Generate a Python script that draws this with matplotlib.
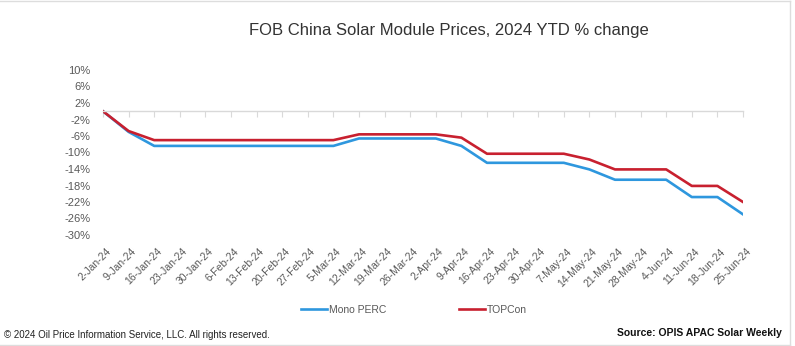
import matplotlib.pyplot as plt
from matplotlib.lines import Line2D

dates = ["2-Jan-24", "9-Jan-24", "16-Jan-24", "23-Jan-24", "30-Jan-24",
         "6-Feb-24", "13-Feb-24", "20-Feb-24", "27-Feb-24",
         "5-Mar-24", "12-Mar-24", "19-Mar-24", "26-Mar-24",
         "2-Apr-24", "9-Apr-24", "16-Apr-24", "23-Apr-24", "30-Apr-24",
         "7-May-24", "14-May-24", "21-May-24", "28-May-24",
         "4-Jun-24", "11-Jun-24", "18-Jun-24", "25-Jun-24"]

mono_perc = [0.0, -5.0, -8.4, -8.4, -8.4, -8.4, -8.4, -8.4, -8.4, -8.4,
             -6.6, -6.6, -6.6, -6.6, -8.4, -12.5, -12.5, -12.5, -12.5,
             -14.1, -16.6, -16.6, -16.6, -20.8, -20.8, -25.0]
topcon = [0.0, -4.8, -7.0, -7.0, -7.0, -7.0, -7.0, -7.0, -7.0, -7.0,
          -5.6, -5.6, -5.6, -5.6, -6.4, -10.3, -10.3, -10.3, -10.3,
          -11.7, -14.1, -14.1, -14.1, -18.1, -18.1, -22.0]

yticks = [10, 6, 2, -2, -6, -10, -14, -18, -22, -26, -30]

plt.rcParams['font.family'] = ['Liberation Sans', 'DejaVu Sans']

fig = plt.figure(figsize=(7.95, 3.46), dpi=100)
ax = fig.add_axes([103 / 795, 1 - 235 / 346, 640 / 795, 165 / 346])

x = list(range(len(dates)))
ax.plot(x, mono_perc, color='#2E97DE', lw=1.9, label='Mono PERC', solid_joinstyle='round')
ax.plot(x, topcon, color='#C8202F', lw=1.9, label='TOPCon', solid_joinstyle='round')

ax.set_xlim(0, len(dates) - 1)
ax.set_ylim(-30, 10)
ax.set_yticks(yticks)
ax.set_yticklabels([f"{t}%" for t in yticks])
ax.tick_params(axis='y', length=0, pad=9, labelsize=8, labelcolor='#595959')

# category axis crosses at zero, labels sit below the plot
for s in ['left', 'right', 'top']:
    ax.spines[s].set_visible(False)
ax.spines['bottom'].set_position(('data', 0))
ax.spines['bottom'].set_color('#d9d9d9')
ax.spines['bottom'].set_linewidth(1.0)
ax.set_xticks(x)
ax.tick_params(axis='x', direction='out', length=4, color='#d9d9d9', labelbottom=False)
for i, d in enumerate(dates):
    ax.text(i + 0.1, -0.07, d, transform=ax.get_xaxis_transform(), rotation=45,
            ha='right', va='top', rotation_mode='anchor', fontsize=7.5, color='#595959')

fig.text(449 / 795, 1 - 30 / 346, "FOB China Solar Module Prices, 2024 YTD % change",
         ha='center', va='center', fontsize=12, color='#333333')

fig.legend(loc='center', bbox_to_anchor=(414 / 795, 1 - 310 / 346), ncol=2, frameon=False,
           fontsize=7.5, labelcolor='#595959', handlelength=2.5, handletextpad=0.2,
           columnspacing=7)

fig.text(4 / 795, 1 - 335 / 346, "\u00a9 2024 Oil Price Information Service, LLC. All rights reserved.",
         ha='left', va='center', fontsize=7, color='#222222')
fig.text(782 / 795, 1 - 333 / 346, "Source: OPIS APAC Solar Weekly",
         ha='right', va='center', fontsize=7.5, fontweight='bold', color='#111111')

# light frame around the picture
fig.add_artist(Line2D([0, 790 / 795], [1 - 1 / 346, 1 - 1 / 346], transform=fig.transFigure, color='#dddddd', lw=1))
fig.add_artist(Line2D([790 / 795, 790 / 795], [1 - 1 / 346, 1 - 345 / 346], transform=fig.transFigure, color='#dddddd', lw=1))
fig.add_artist(Line2D([0, 790 / 795], [1 - 345 / 346, 1 - 345 / 346], transform=fig.transFigure, color='#dddddd', lw=1))

fig.savefig('out.png', dpi=100)
